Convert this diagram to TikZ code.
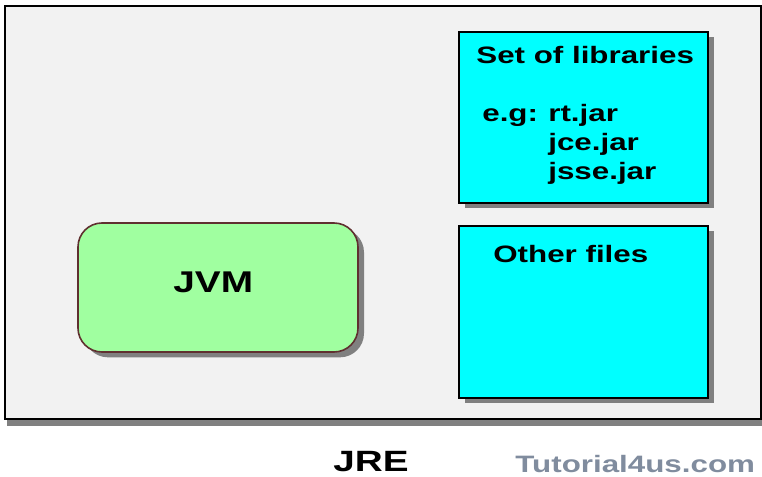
\documentclass[tikz,border=0pt]{standalone}
\usepackage{fontspec}
\setmainfont{Liberation Sans}
\usetikzlibrary{shadows}
\definecolor{jrebg}{RGB}{242,242,242}
\definecolor{libcyan}{RGB}{0,255,255}
\definecolor{jvmgreen}{RGB}{160,255,160}
\definecolor{jvmedge}{RGB}{96,48,48}
\definecolor{sitegray}{RGB}{128,140,158}
\tikzset{
  boxshadow/.style={drop shadow={shadow xshift=4.5pt, shadow yshift=-4pt, fill=black!50, opacity=1}},
  filebox/.style={draw=black, line width=1.2pt, fill=libcyan, boxshadow, inner sep=0pt},
  boxtext/.style={anchor=base west, inner sep=0pt, xscale=1.32, font=\bfseries\fontsize{17.8}{20}\selectfont}
}
\begin{document}
\begin{tikzpicture}[x=0.75pt, y=-0.75pt]
		%%%%% START %%%%%
		\useasboundingbox (0, 0) rectangle (762, 477);

		\node[draw=black, line width=1.5pt, fill=jrebg, inner sep=0pt, minimum width=567pt, minimum height=309.75pt,
		      drop shadow={shadow xshift=1.5pt, shadow yshift=-5pt, fill=black!50, opacity=1}] (jre) at (383, 212.5) {};

		\node[filebox, minimum width=186.75pt, minimum height=128.25pt] (libs) at (583.5, 117.5) {};
		\node[filebox, minimum width=186.75pt, minimum height=129pt] (other) at (583.5, 312) {};
		\node[draw=jvmedge, line width=1.2pt, fill=jvmgreen, rounded corners=18pt, boxshadow, inner sep=0pt,
		      minimum width=210pt, minimum height=96.75pt] (jvm) at (218, 287.5) {};

		\node[boxtext] (libstitle) at (476, 64) {Set of libraries};
		\node[boxtext] (eg) at (482, 122) {e.g:};
		\node[boxtext] (rtjar) at (548, 122) {rt.jar};
		\node[boxtext] (jcejar) at (548, 151) {jce.jar};
		\node[boxtext] (jssejar) at (548, 180) {jsse.jar};
		\node[boxtext] (othertitle) at (493, 262) {Other files};

		\node[boxtext, font=\bfseries\fontsize{22.5}{24}\selectfont, xscale=0.98] (jvmlabel) at (173, 292) {JVM};
		\node[boxtext, font=\bfseries\fontsize{22}{24}\selectfont] (jrelabel) at (333, 471) {JRE};
		\node[boxtext, text=sitegray] (site) at (515, 472) {Tutorial4us.com};
		%%%%% END %%%%%
\end{tikzpicture}
\end{document}
